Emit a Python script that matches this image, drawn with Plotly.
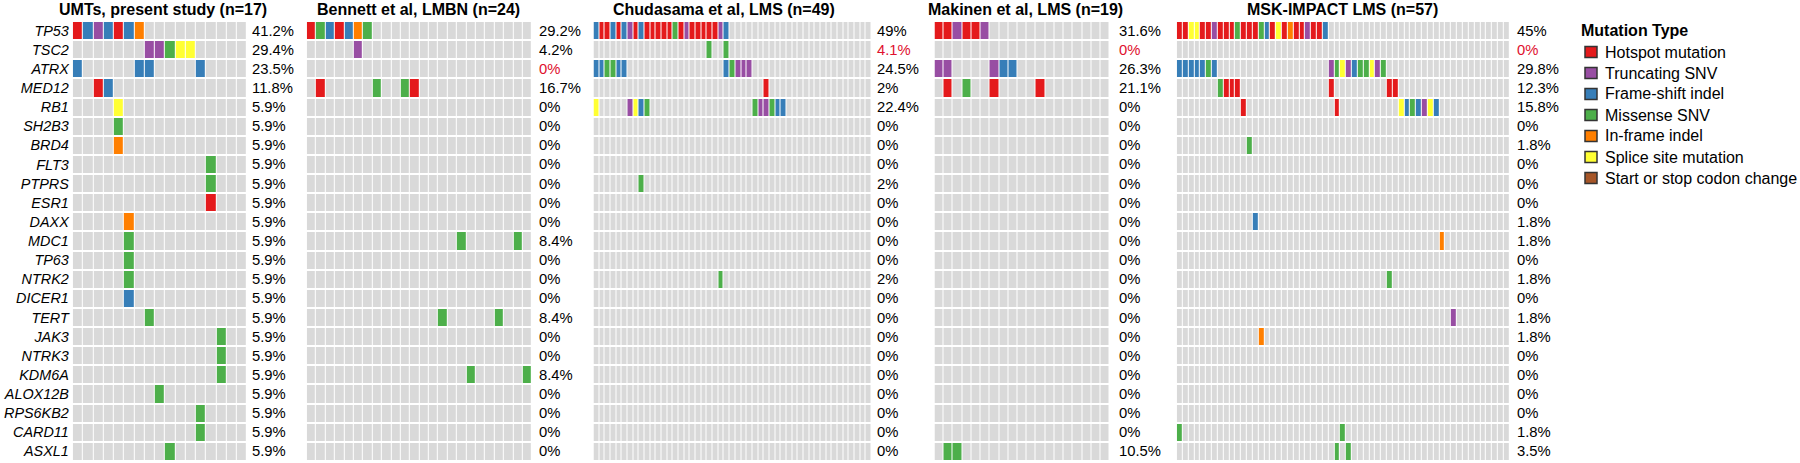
import plotly.graph_objects as go

W, H = 1800, 463

GENES = ["TP53", "TSC2", "ATRX", "MED12", "RB1", "SH2B3", "BRD4", "FLT3", "PTPRS",
         "ESR1", "DAXX", "MDC1", "TP63", "NTRK2", "DICER1", "TERT", "JAK3", "NTRK3",
         "KDM6A", "ALOX12B", "RPS6KB2", "CARD11", "ASXL1"]

TYPE_NAMES = ["Hotspot mutation", "Truncating SNV", "Frame-shift indel", "Missense SNV",
              "In-frame indel", "Splice site mutation", "Start or stop codon change"]
TYPE_CODES = ["H", "T", "F", "M", "I", "S", "C"]
TYPE_COLORS = ["#E41A1C", "#984EA3", "#377EB8", "#4DAF4A", "#FF7F00", "#FFFF33", "#A65628"]
EMPTY_COLOR = "#D9D9D9"

STUDY_TITLES = ["UMTs, present study (n=17)", "Bennett et al, LMBN (n=24)",
                "Chudasama et al, LMS (n=49)", "Makinen et al, LMS (n=19)",
                "MSK-IMPACT LMS (n=57)"]
STUDY_N = [17, 24, 49, 19, 57]

# one string per gene, one character per sample ('.' = no mutation)
UMT_ROWS = ["HFTFHFI", ".......TTMSS", "F.....FF....F", "..HF", "....S", "....M", "....I",
            ".............M", ".............M", ".............H", ".....I", ".....M",
            ".....M", ".....M", ".....F", ".......M", "..............M", "..............M",
            "..............M", "........M", "............M", "............M", ".........M"]
UMT_PCT = ["41.2%", "29.4%", "23.5%", "11.8%"] + ["5.9%"] * 19

BENNETT_ROWS = ["HMFHFIM", ".....T", "", ".H.....M..MH", "", "", "", "", "", "", "",
                "................M.....M", "", "", "", "..............M.....M", "", "",
                ".................M.....M", "", "", "", ""]
BENNETT_PCT = ["29.2%", "4.2%", "0%", "16.7%", "0%", "0%", "0%", "0%", "0%", "0%", "0%",
               "8.4%", "0%", "0%", "0%", "8.4%", "0%", "0%", "8.4%", "0%", "0%", "0%", "0%"]

CHUD_ROWS = ["FHHFHFTHFHHHHHMHTHHHHHTF", "....................M..M",
             "FFMMFF.................FMTTT", "..............................H",
             "S.....TSFM..................MTTMFF", "", "", "", "........M", "", "", "",
             "", "......................M", "", "", "", "", "", "", "", "", ""]
CHUD_PCT = ["49%", "4.1%", "24.5%", "2%", "22.4%", "0%", "0%", "0%", "2%", "0%", "0%",
            "0%", "0%", "2%", "0%", "0%", "0%", "0%", "0%", "0%", "0%", "0%", "0%"]

MAK_ROWS = ["HHTHHT", "", "TT....TFF", ".H.M..H....H", "", "", "", "", "", "", "", "", "",
            "", "", "", "", "", "", "", "", "", ".MM"]
MAK_PCT = ["31.6%", "0%", "26.3%", "21.1%"] + ["0%"] * 18 + ["10.5%"]

MSK_ROWS = ["HHSSHHTHHHMHHHMFHSHIHHTHHF",
            "",
            "FFFFFMF...................TMSTFMMSTM",
            ".......MHHH...............H.........HH",
            "...........H...............H..........SFMFTSF",
            "",
            "............M",
            "", "", "",
            ".............F",
            ".............................................I",
            "",
            "....................................M",
            "",
            "...............................................T",
            "..............I",
            "", "", "", "",
            "M...........................M",
            "...........................M.M"]
MSK_PCT = ["45%", "0%", "29.8%", "12.3%", "15.8%", "0%", "1.8%", "0%", "0%", "0%", "1.8%",
           "1.8%", "0%", "1.8%", "0%", "1.8%", "1.8%", "0%", "0%", "0%", "0%", "1.8%", "3.5%"]

STUDY_ROWS = [UMT_ROWS, BENNETT_ROWS, CHUD_ROWS, MAK_ROWS, MSK_ROWS]
STUDY_PCT = [UMT_PCT, BENNETT_PCT, CHUD_PCT, MAK_PCT, MSK_PCT]
RED_LABELS = [(1, "ATRX"), (2, "TSC2"), (3, "TSC2"), (4, "TSC2")]

# ---- layout geometry (pixels) ----
PANEL_X = [(72.8, 247.2), (306.8, 532.2), (593.5, 871.5), (934.5, 1109.8), (1176.8, 1509.5)]
PCT_X = [250, 536.5, 875, 1116.5, 1515]
TITLE_X = [162.5, 418, 724.3, 1025.3, 1342.5]
GRID_TOP, GRID_BOTTOM = 21, 461
LEG_X, LEG_TITLE_Y, LEG_Y0, LEG_DY = 1581, 30, 52, 21

FONT = "Liberation Sans, Arial, sans-serif"

colorscale = []
all_colors = [EMPTY_COLOR] + TYPE_COLORS
nc = len(all_colors)
for k, c in enumerate(all_colors):
    colorscale.append([k / nc, c])
    colorscale.append([(k + 1) / nc, c])

fig = go.Figure()
annotations = []
shapes = []
layout_axes = {}

for i, (rows, n) in enumerate(zip(STUDY_ROWS, STUDY_N)):
    z = []
    for r in rows:
        r = r.ljust(n, ".")[:n]
        z.append([0 if ch == "." else TYPE_CODES.index(ch) + 1 for ch in r])
    xname = "x" if i == 0 else f"x{i + 1}"
    fig.add_trace(go.Heatmap(
        z=z, x=list(range(n)), y=GENES, xaxis=xname, yaxis="y",
        colorscale=colorscale, zmin=-0.5, zmax=nc - 0.5, showscale=False,
        xgap=1, ygap=2, hoverinfo="skip"))
    key = "xaxis" if i == 0 else f"xaxis{i + 1}"
    x0, x1 = PANEL_X[i]
    layout_axes[key] = dict(domain=[x0 / W, x1 / W], range=[-0.5, n - 0.5], visible=False,
                            anchor="y", fixedrange=True)
    annotations.append(dict(text=f"<b>{STUDY_TITLES[i]}</b>", xref="paper", yref="paper",
                            x=TITLE_X[i] / W, y=1 - 9.5 / H, xanchor="center", yanchor="middle",
                            showarrow=False, font=dict(size=16, color="black", family=FONT)))
    for g, label in zip(GENES, STUDY_PCT[i]):
        col = "#E0102E" if (i, g) in RED_LABELS else "black"
        annotations.append(dict(text=label, xref="paper", yref="y", x=PCT_X[i] / W, y=g,
                                xanchor="left", yanchor="middle", showarrow=False,
                                font=dict(size=14.8, color=col, family=FONT)))

# legend (Mutation Type)
annotations.append(dict(text="<b>Mutation Type</b>", xref="paper", yref="paper",
                        x=(LEG_X - 2) / W, y=1 - LEG_TITLE_Y / H, xanchor="left",
                        yanchor="middle", showarrow=False,
                        font=dict(size=16, color="black", family=FONT)))
for k, (name, color) in enumerate(zip(TYPE_NAMES, TYPE_COLORS)):
    yc = LEG_Y0 + k * LEG_DY
    shapes.append(dict(type="rect", xref="paper", yref="paper",
                       x0=(LEG_X + 4) / W, x1=(LEG_X + 16) / W,
                       y0=1 - (yc + 5.5) / H, y1=1 - (yc - 5.5) / H,
                       fillcolor=color, line=dict(color="#333333", width=1.5)))
    annotations.append(dict(text=name, xref="paper", yref="paper",
                            x=(LEG_X + 22) / W, y=1 - yc / H, xanchor="left",
                            yanchor="middle", showarrow=False,
                            font=dict(size=16, color="black", family=FONT)))

fig.update_layout(
    width=W, height=H, margin=dict(l=0, r=0, t=0, b=0, autoexpand=False),
    paper_bgcolor="white", plot_bgcolor="white",
    font=dict(family=FONT, color="black"),
    annotations=annotations, shapes=shapes, showlegend=False,
    yaxis=dict(type="category", categoryorder="array", categoryarray=GENES,
               range=[len(GENES) - 0.5, -0.5], domain=[1 - GRID_BOTTOM / H, 1 - GRID_TOP / H],
               showgrid=False, zeroline=False, showline=False, ticks="",
               ticklabelstandoff=3,
               tickfont=dict(size=14.4, family=FONT, style="italic", color="black"),
               anchor="x", fixedrange=True),
    **layout_axes,
)

fig.write_html("out.html", config={"displayModeBar": False, "staticPlot": True},
               post_script="document.body.style.margin='0px';")
